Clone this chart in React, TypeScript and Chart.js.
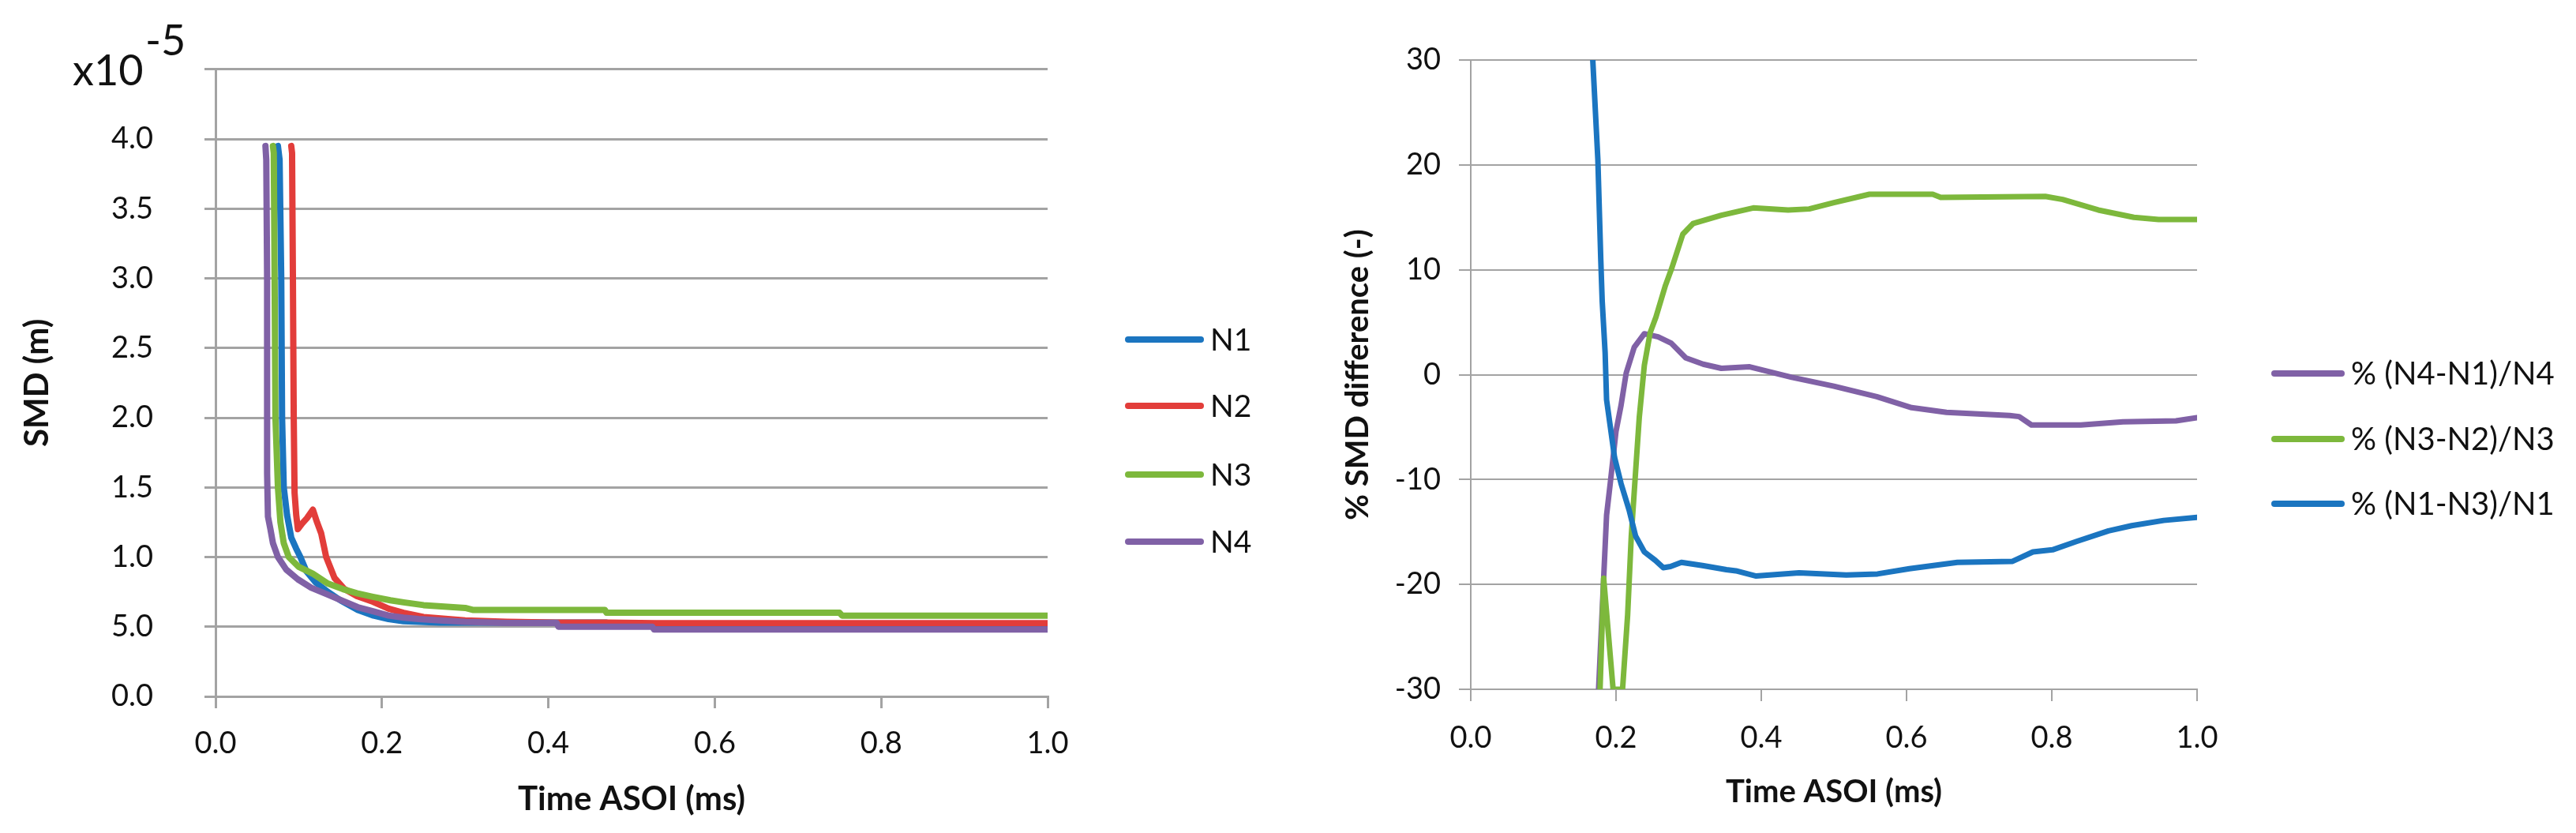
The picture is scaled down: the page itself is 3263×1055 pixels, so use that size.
import React, { useEffect, useRef } from 'react'
import { Chart, registerables } from 'chart.js'

Chart.register(...registerables)

const FONT = 'Lato, "Open Sans", sans-serif'
const GRID = '#A3A3A3'
const TEXT = '#111'

const BLUE = '#1B75C0'
const RED = '#E23D3A'
const GREEN = '#7DB83C'
const PURPLE = '#8061A6'

// ---- left chart: SMD (x10^-5 m) vs Time ASOI (ms) ----
const n1Time = [0.075, 0.077, 0.079, 0.080, 0.082, 0.086, 0.091, 0.097, 0.102, 0.109, 0.12, 0.135, 0.15, 0.171, 0.19, 0.208, 0.226, 0.244, 0.27, 0.30, 0.41, 0.47, 0.472, 0.525, 0.527, 1.0]
const n1Smd = [3.95, 3.85, 3.0, 2.0, 1.5, 1.3, 1.14, 1.06, 1.0, 0.9, 0.82, 0.75, 0.69, 0.62, 0.58, 0.555, 0.54, 0.535, 0.53, 0.53, 0.53, 0.53, 0.51, 0.51, 0.50, 0.50]

const n2Time = [0.091, 0.092, 0.093, 0.094, 0.095, 0.097, 0.099, 0.104, 0.110, 0.117, 0.122, 0.127, 0.133, 0.143, 0.155, 0.17, 0.189, 0.208, 0.226, 0.25, 0.30, 0.35, 0.41, 0.47, 0.53, 1.0]
const n2Smd = [3.95, 3.9, 3.0, 2.0, 1.46, 1.3, 1.2, 1.24, 1.28, 1.34, 1.25, 1.17, 1.0, 0.85, 0.77, 0.72, 0.68, 0.63, 0.60, 0.57, 0.545, 0.535, 0.53, 0.53, 0.525, 0.525]

const n3Time = [0.069, 0.070, 0.071, 0.072, 0.075, 0.078, 0.082, 0.088, 0.10, 0.117, 0.135, 0.153, 0.17, 0.189, 0.21, 0.226, 0.25, 0.30, 0.31, 0.468, 0.47, 0.75, 0.753, 1.0]
const n3Smd = [3.95, 3.9, 3.0, 2.0, 1.5, 1.25, 1.1, 1.0, 0.93, 0.88, 0.81, 0.77, 0.74, 0.715, 0.69, 0.675, 0.655, 0.635, 0.62, 0.62, 0.60, 0.60, 0.58, 0.58]

const n4Time = [0.060, 0.061, 0.062, 0.062, 0.063, 0.066, 0.069, 0.075, 0.085, 0.099, 0.115, 0.135, 0.155, 0.171, 0.19, 0.208, 0.226, 0.244, 0.27, 0.30, 0.35, 0.41, 0.412, 0.525, 0.527, 1.0]
const n4Smd = [3.95, 3.85, 3.0, 1.6, 1.29, 1.2, 1.1, 1.0, 0.91, 0.84, 0.78, 0.73, 0.68, 0.64, 0.61, 0.58, 0.565, 0.555, 0.545, 0.535, 0.527, 0.527, 0.50, 0.50, 0.48, 0.48]

const smdTickLabels = ['0.0', '5.0', '1.0', '1.5', '2.0', '2.5', '3.0', '3.5', '4.0', '']
const timeTickLabels = ['0.0', '0.2', '0.4', '0.6', '0.8', '1.0']

// ---- right chart: % SMD difference (-) vs Time ASOI (ms) ----
const d41Time = [0.176, 0.183, 0.187, 0.192, 0.200, 0.207, 0.214, 0.225, 0.239, 0.258, 0.276, 0.296, 0.320, 0.345, 0.384, 0.442, 0.50, 0.559, 0.607, 0.655, 0.742, 0.755, 0.772, 0.84, 0.898, 0.971, 1.0]
const d41Pct = [-30, -19.4, -13.4, -10.4, -5.4, -2.9, 0.15, 2.6, 3.9, 3.6, 3.0, 1.6, 1.0, 0.6, 0.75, -0.25, -1.1, -2.1, -3.15, -3.6, -3.9, -4.0, -4.8, -4.8, -4.5, -4.4, -4.1]

const d32Time = [0.178, 0.183, 0.196, 0.209, 0.216, 0.221, 0.227, 0.232, 0.239, 0.247, 0.255, 0.268, 0.277, 0.292, 0.306, 0.345, 0.389, 0.437, 0.466, 0.50, 0.549, 0.636, 0.647, 0.791, 0.815, 0.864, 0.913, 0.947, 1.0]
const d32Pct = [-30, -19.4, -30, -30, -22.9, -15.4, -9.2, -4.1, 0.9, 4.0, 5.5, 8.5, 10.2, 13.4, 14.4, 15.2, 15.9, 15.7, 15.8, 16.4, 17.2, 17.2, 16.9, 17.0, 16.7, 15.7, 15.0, 14.8, 14.8]

const d13Time = [0.168, 0.175, 0.179, 0.181, 0.185, 0.187, 0.192, 0.198, 0.207, 0.218, 0.227, 0.239, 0.254, 0.265, 0.275, 0.29, 0.319, 0.352, 0.365, 0.393, 0.452, 0.517, 0.56, 0.604, 0.67, 0.746, 0.774, 0.801, 0.834, 0.878, 0.91, 0.954, 1.0]
const d13Pct = [30, 20.5, 11.0, 7.0, 2.1, -2.4, -4.9, -7.9, -10.4, -12.9, -15.4, -16.9, -17.7, -18.4, -18.3, -17.9, -18.2, -18.6, -18.7, -19.2, -18.9, -19.1, -19.0, -18.5, -17.9, -17.8, -16.9, -16.7, -15.9, -14.9, -14.4, -13.9, -13.6]

const pctTickLabels = ['-30', '-20', '-10', '0', '10', '20', '30']

const toPoints = (xs: number[], ys: number[]) => xs.map((x, i) => ({ x, y: ys[i] }))

const lineStyle = (width: number) => ({
  borderWidth: width,
  pointRadius: 0,
  tension: 0,
  fill: false,
  borderJoinStyle: 'round' as const,
  borderCapStyle: 'round' as const,
})

// legend drawn beside the plot, taking colour and label from the datasets
const sideLegend = (order: number[], x0: number, x1: number, ys: number[], fontSize: number, lw: number) => ({
  id: 'sideLegend',
  afterDraw(chart: any) {
    const ctx = chart.ctx
    ctx.save()
    ctx.font = `${fontSize}px ${FONT}`
    ctx.textBaseline = 'middle'
    ctx.fillStyle = TEXT
    order.forEach((di, i) => {
      const ds = chart.data.datasets[di]
      ctx.strokeStyle = ds.borderColor
      ctx.lineWidth = lw
      ctx.lineCap = 'round'
      ctx.beginPath()
      ctx.moveTo(x0, ys[i])
      ctx.lineTo(x1, ys[i])
      ctx.stroke()
      ctx.fillText(ds.label, x1 + lw + 4, ys[i] + 1)
    })
    ctx.restore()
  },
})

const multiplierLabel = {
  id: 'multiplierLabel',
  afterDraw(chart: any) {
    const ctx = chart.ctx
    ctx.save()
    ctx.font = `54px ${FONT}`
    ctx.fillStyle = TEXT
    ctx.textBaseline = 'alphabetic'
    ctx.fillText('x10', 92, 108)
    ctx.fillText('-5', 184, 70)
    ctx.restore()
  },
}

const SmdChart = () => {
  const ref = useRef<HTMLCanvasElement>(null)
  useEffect(() => {
    if (!ref.current) return
    const chart = new Chart(ref.current, {
      type: 'line',
      data: {
        datasets: [
          { label: 'N1', data: toPoints(n1Time, n1Smd), borderColor: BLUE, order: 4, ...lineStyle(8) },
          { label: 'N2', data: toPoints(n2Time, n2Smd), borderColor: RED, order: 3, ...lineStyle(8) },
          { label: 'N3', data: toPoints(n3Time, n3Smd), borderColor: GREEN, order: 2, ...lineStyle(8) },
          { label: 'N4', data: toPoints(n4Time, n4Smd), borderColor: PURPLE, order: 1, ...lineStyle(8) },
        ],
      },
      options: {
        animation: false,
        responsive: false,
        maintainAspectRatio: false,
        layout: { padding: { left: 0, top: 69, right: 313, bottom: 0 } },
        plugins: { legend: { display: false }, tooltip: { enabled: false } },
        scales: {
          x: {
            type: 'linear',
            min: 0,
            max: 1,
            afterFit: (s: any) => { s.height = 173 },
            ticks: {
              stepSize: 0.2,
              padding: 22,
              color: TEXT,
              font: { family: FONT, size: 38 },
              callback: (_v: any, i: number) => timeTickLabels[i],
            },
            grid: { drawOnChartArea: false, drawTicks: true, tickLength: 15, color: GRID, lineWidth: 3 },
            border: { display: true, color: GRID, width: 3 },
            title: {
              display: true,
              text: 'Time ASOI (ms)',
              color: TEXT,
              font: { family: FONT, size: 42, weight: 'bold' },
              padding: { top: 0, bottom: 17 },
            },
          },
          y: {
            min: 0,
            max: 4.5,
            afterFit: (s: any) => { s.width = 273 },
            ticks: {
              stepSize: 0.5,
              autoSkip: false,
              padding: 65,
              color: TEXT,
              font: { family: FONT, size: 38 },
              callback: (_v: any, i: number) => smdTickLabels[i],
            },
            grid: { color: GRID, lineWidth: 3, tickLength: 14 },
            border: { display: true, color: GRID, width: 3 },
            title: {
              display: true,
              text: 'SMD (m)',
              color: TEXT,
              font: { family: FONT, size: 42, weight: 'bold' },
              padding: { top: 22, bottom: 0 },
            },
          },
        },
      },
      plugins: [multiplierLabel, sideLegend([0, 1, 2, 3], 1429, 1521, [430, 514, 601, 686], 39, 8)],
    })
    return () => chart.destroy()
  }, [])
  return <canvas ref={ref} width={1640} height={1055} style={{ position: 'absolute', left: 0, top: 0 }} />
}

const DiffChart = () => {
  const ref = useRef<HTMLCanvasElement>(null)
  useEffect(() => {
    if (!ref.current) return
    const chart = new Chart(ref.current, {
      type: 'line',
      data: {
        datasets: [
          { label: '% (N4-N1)/N4', data: toPoints(d41Time, d41Pct), borderColor: PURPLE, order: 3, ...lineStyle(7) },
          { label: '% (N3-N2)/N3', data: toPoints(d32Time, d32Pct), borderColor: GREEN, order: 2, ...lineStyle(7) },
          { label: '% (N1-N3)/N1', data: toPoints(d13Time, d13Pct), borderColor: BLUE, order: 1, ...lineStyle(7) },
        ],
      },
      options: {
        animation: false,
        responsive: false,
        maintainAspectRatio: false,
        layout: { padding: { left: 0, top: 76, right: 480, bottom: 0 } },
        plugins: { legend: { display: false }, tooltip: { enabled: false } },
        scales: {
          x: {
            type: 'linear',
            min: 0,
            max: 1,
            afterFit: (s: any) => { s.height = 182 },
            ticks: {
              stepSize: 0.2,
              padding: 24,
              color: TEXT,
              font: { family: FONT, size: 38 },
              callback: (_v: any, i: number) => timeTickLabels[i],
            },
            grid: { drawOnChartArea: false, drawTicks: true, tickLength: 15, color: GRID, lineWidth: 2 },
            border: { display: true, color: GRID, width: 2 },
            title: {
              display: true,
              text: 'Time ASOI (ms)',
              color: TEXT,
              font: { family: FONT, size: 40, weight: 'bold' },
              padding: { top: 0, bottom: 28 },
            },
          },
          y: {
            min: -30,
            max: 30,
            afterFit: (s: any) => { s.width = 223 },
            ticks: {
              stepSize: 10,
              autoSkip: false,
              padding: 23,
              color: TEXT,
              font: { family: FONT, size: 38 },
              callback: (_v: any, i: number) => pctTickLabels[i],
            },
            grid: { color: GRID, lineWidth: 2, tickLength: 15 },
            border: { display: true, color: GRID, width: 2 },
            title: {
              display: true,
              text: '% SMD difference (-)',
              color: TEXT,
              font: { family: FONT, size: 40, weight: 'bold' },
              padding: { top: 56, bottom: 0 },
            },
          },
        },
      },
      plugins: [sideLegend([0, 1, 2], 1241, 1326, [473, 556, 638], 40, 8)],
    })
    return () => chart.destroy()
  }, [])
  return <canvas ref={ref} width={1623} height={1055} style={{ position: 'absolute', left: 1640, top: 0 }} />
}

export default function App() {
  useEffect(() => {
    document.body.style.margin = '0'
  }, [])
  return (
    <div style={{ position: 'relative', width: 3263, height: 1055, background: '#fff', overflow: 'hidden' }}>
      <SmdChart />
      <DiffChart />
    </div>
  )
}
